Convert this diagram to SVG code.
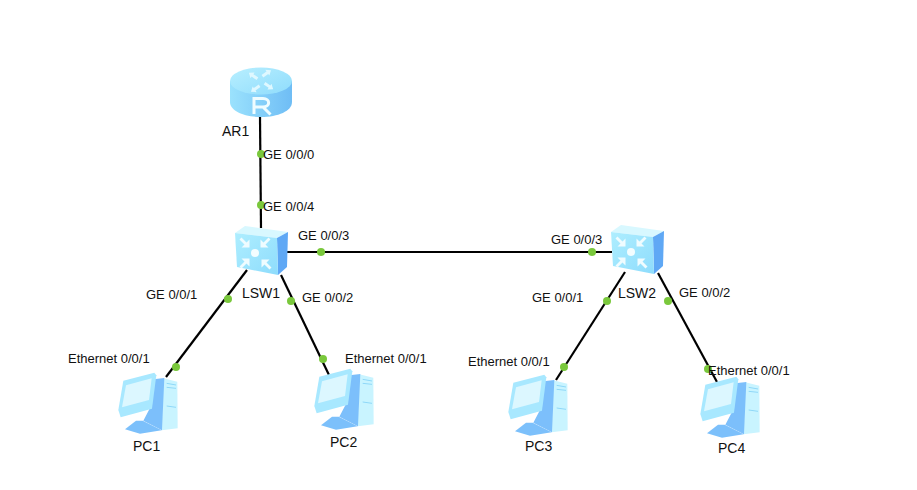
<svg xmlns="http://www.w3.org/2000/svg" width="917" height="490" viewBox="0 0 917 490">
<style>
text{font-family:"Liberation Sans",Arial,sans-serif;fill:#111}
.p{font-size:13px}.n{font-size:14px}
.l{stroke:#000;stroke-width:2.2;fill:none}
.d{fill:#7ac83c}
</style>
<defs>
<linearGradient id="rt" x1="0" y1="0" x2="1" y2="1"><stop offset="0" stop-color="#b8efff"/><stop offset="1" stop-color="#8fdcfc"/></linearGradient>
<linearGradient id="rb" x1="0" y1="0" x2="1" y2="0"><stop offset="0" stop-color="#9be2fd"/><stop offset="1" stop-color="#6fbdf5"/></linearGradient>
<linearGradient id="sf" x1="0" y1="0" x2="1" y2="1"><stop offset="0" stop-color="#aeeeff"/><stop offset="1" stop-color="#8edcfc"/></linearGradient>
<path id="arr" d="M4.500 4.500 H-3.500 L-0.500 1.500 L-5.500 -3.500 L-3.500 -5.500 L1.500 -0.500 L4.500 -3.500Z" fill="#effcff"/>
<path id="rarr" d="M0 -2.500 H6 V-4.500 L10.500 -1 L6 2.500 V0.500 H0Z" fill="#dff8ff"/>
<symbol id="router" overflow="visible">
<path d="M-31 0 V21 C-31 30 -17 36 0 36 S31 30 31 21 V0Z" fill="url(#rb)"/>
<ellipse cx="0" cy="0" rx="31" ry="13.500" fill="url(#rt)"/>
<use href="#rarr" transform="translate(2 -4) rotate(-35)"/>
<use href="#rarr" transform="translate(3 3) rotate(35)"/>
<use href="#rarr" transform="translate(-2 4) rotate(145)"/>
<use href="#rarr" transform="translate(-3 -3) rotate(215)"/>
<path d="M-7 33 V17.500 H2 C9.500 17.500 9.500 26 2 26 H-7 M2 26 L9.500 33.500" fill="none" stroke="#effcff" stroke-width="3"/>
</symbol>
<symbol id="switch" overflow="visible">
<path d="M0 0 L10 -7 L53 -1 L42 5Z" fill="#d8f8ff"/>
<path d="M42 5 L53 -1 L52 34 L43 42Z" fill="#5fa8f5"/>
<path d="M0 0 L42 5 L43 42 L2 34Z" fill="url(#sf)"/>
<circle cx="20" cy="20" r="4" fill="#f3fdff"/>
<use href="#arr" transform="translate(10 10)"/>
<use href="#arr" transform="translate(30 10) rotate(90)"/>
<use href="#arr" transform="translate(31 31) rotate(180)"/>
<use href="#arr" transform="translate(10 30) rotate(270)"/>
</symbol>
<symbol id="pc" overflow="visible">
<g transform="scale(.3333)">
<path d="M190 85 L232 95 L233 235 L185 241Z" fill="#c9f4ff"/>
<path d="M200 100 L228 105 M200 112 L228 115 M200 168 L228 172" stroke="#8fd8f8" stroke-width="3"/>
<path d="M75 238 L108 212 L128 212 L185 241 L120 251Z" fill="#7cc0fb"/>
<path d="M160 88 L193 84 L186 241 L130 212 L148 178Z" fill="#7cbffb"/>
<path d="M55 180 L70 92 L163 68 L169 76 L156 176 L62 202Z" fill="#a8e8ff"/>
<path d="M66 172 L78 106 L155 85 L147 150Z" fill="#dcf7ff"/>
</g>
</symbol>
</defs>
<g id="connectors">
<path class="l" d="M260 117 L261 228"/>
<path class="l" d="M285 252 H612"/>
<path class="l" d="M247 270 L166 377"/>
<path class="l" d="M281 275 L329 375"/>
<path class="l" d="M625 272 L556 380"/>
<path class="l" d="M658 273 L717 382"/>
<g class="d">
<circle cx="261" cy="154" r="4"/><circle cx="261" cy="205" r="4"/>
<circle cx="321" cy="252" r="4"/><circle cx="592" cy="252" r="4"/>
<circle cx="228" cy="299" r="4"/><circle cx="176" cy="367" r="4"/>
<circle cx="291" cy="301" r="4"/><circle cx="323" cy="359" r="4"/>
<circle cx="607" cy="301" r="4"/><circle cx="564" cy="367" r="4"/>
<circle cx="668" cy="301" r="4"/><circle cx="708" cy="369" r="4"/>
</g>
</g>
<g id="AR1"><use href="#router" x="261" y="81"/><text class="n" x="222" y="136">AR1</text></g>
<g id="LSW1"><use href="#switch" x="235" y="233"/><text class="n" x="242" y="298">LSW1</text></g>
<g id="LSW2"><use href="#switch" x="611" y="232"/><text class="n" x="618" y="298">LSW2</text></g>
<g id="PC1"><use href="#pc" x="100" y="350"/><text class="n" x="133" y="451">PC1</text></g>
<g id="PC2"><use href="#pc" x="296" y="346"/><text class="n" x="330" y="447">PC2</text></g>
<g id="PC3"><use href="#pc" x="490" y="352"/><text class="n" x="525" y="451">PC3</text></g>
<g id="PC4"><use href="#pc" x="682" y="354"/><text class="n" x="718" y="453">PC4</text></g>
<g id="labels">
<text class="p" x="263" y="159">GE 0/0/0</text>
<text class="p" x="263" y="211">GE 0/0/4</text>
<text class="p" x="298" y="240">GE 0/0/3</text>
<text class="p" x="551" y="244">GE 0/0/3</text>
<text class="p" x="146" y="299">GE 0/0/1</text>
<text class="p" x="302" y="302">GE 0/0/2</text>
<text class="p" x="532" y="302">GE 0/0/1</text>
<text class="p" x="679" y="297">GE 0/0/2</text>
<text class="p" x="68" y="363">Ethernet 0/0/1</text>
<text class="p" x="345" y="363">Ethernet 0/0/1</text>
<text class="p" x="468" y="366">Ethernet 0/0/1</text>
<text class="p" x="708" y="375">Ethernet 0/0/1</text>
</g>
</svg>
